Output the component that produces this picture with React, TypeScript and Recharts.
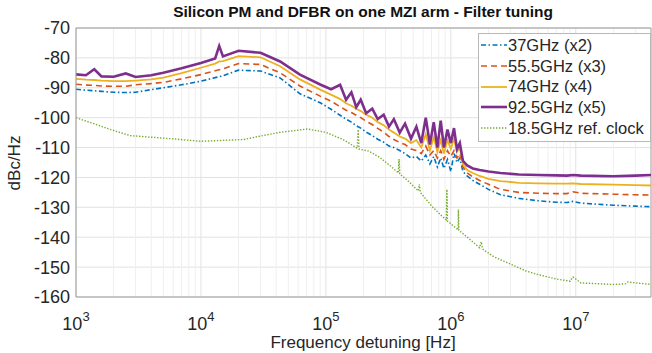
import React from "react";
import { LineChart, Line, XAxis, YAxis, CartesianGrid, ReferenceLine } from "recharts";

// shared frequency grid (Hz) for the four harmonic traces
const freqs = [
  1000, 1200, 1400, 1600, 2000, 2500, 3000, 4000, 5000, 7000,
  10000, 13000, 14000, 15000, 20000, 30000, 43000, 62000, 90000, 110000,
  130000, 145000, 160000, 175000, 190000, 210000, 235000, 260000, 290000, 320000,
  350000, 390000, 430000, 480000, 530000, 580000, 630000, 680000, 730000, 780000,
  830000, 880000, 940000, 1000000, 1060000, 1120000, 1180000, 1250000, 1350000, 1500000,
  1700000, 2000000, 2500000, 3500000, 5000000, 7000000, 8500000, 9500000, 11000000, 20000000,
  30000000, 40000000,
];

const pn37 = [
  -90.5, -90.8, -91.0, -91.2, -91.5, -91.6, -91.5, -90.6, -90.0, -89.0,
  -87.8, -86.6, -86.3, -86.0, -84.1, -84.4, -86.7, -92.0, -95.0, -97.2,
  -99.2, -100.5, -101.5, -102.7, -103.5, -104.8, -106.0, -107.2, -108.2, -109.5,
  -110.0, -111.0, -112.0, -113.5, -113.0, -114.5, -112.5, -115.5, -113.0, -116.5,
  -113.5, -117.0, -114.0, -118.0, -112.0, -115.0, -113.5, -118.0, -119.5, -121.0,
  -122.3, -124.0, -125.8, -127.0, -127.8, -128.3, -128.4, -128.0, -128.6, -129.3,
  -129.6, -129.8,
];

const pn55 = [
  -88.8, -89.1, -89.2, -89.4, -89.5, -89.5, -89.0, -88.6, -88.2, -87.0,
  -85.6, -84.3, -84.0, -83.7, -81.9, -82.2, -85.0, -89.4, -92.8, -94.5,
  -96.3, -97.5, -98.3, -99.2, -100.0, -101.2, -102.3, -103.6, -104.8, -106.3,
  -107.3, -108.3, -109.0, -110.5, -111.0, -112.0, -109.5, -112.5, -111.0, -113.5,
  -111.0, -114.0, -111.0, -113.0, -111.0, -113.5, -112.0, -116.5, -118.5, -119.8,
  -121.0, -122.3, -124.0, -125.0, -125.3, -125.4, -125.4, -124.8, -125.3, -125.6,
  -125.8, -125.9,
];

const pn74 = [
  -87.0, -87.3, -87.4, -87.6, -87.8, -87.8, -87.6, -87.2, -86.6, -85.1,
  -83.3, -81.9, -81.2, -81.1, -79.4, -79.8, -82.8, -87.2, -90.6, -92.3,
  -93.8, -95.2, -96.0, -97.0, -97.8, -99.0, -100.0, -101.5, -102.5, -104.0,
  -105.0, -106.3, -107.0, -108.5, -107.5, -110.0, -105.5, -111.0, -106.5, -111.5,
  -107.5, -112.0, -107.5, -110.5, -107.0, -111.5, -110.0, -115.5, -117.5, -118.5,
  -119.5, -120.5, -121.2, -121.8, -122.0, -122.1, -122.1, -122.0, -122.2, -122.4,
  -122.6, -122.7,
];

const pn92 = [
  -85.5, -85.8, -83.8, -86.2, -86.3, -85.2, -86.4, -85.8, -85.0, -83.5,
  -81.7, -80.2, -76.0, -79.5, -77.6, -78.3, -81.2, -85.6, -88.9, -90.5,
  -89.0, -94.0, -91.5, -96.5, -94.0, -98.5, -97.0, -100.5, -99.0, -103.0,
  -100.5, -105.0, -102.0, -107.0, -103.0, -108.5, -100.0, -109.0, -101.5, -110.0,
  -101.0, -110.0, -104.0, -108.5, -103.5, -110.5, -108.5, -114.5, -116.0, -117.0,
  -117.5, -118.0, -118.5, -119.0, -119.2, -119.3, -119.4, -119.2, -119.4, -119.6,
  -119.4, -119.2,
];

// reference clock trace has its own frequency points
const clockFreqs = [
  1000, 1500, 1900, 2700, 5600, 10000, 22000, 34000, 43000, 71000,
  100000, 137000, 175000, 178000, 181000, 184000, 220000, 270000, 330000, 380000,
  385000, 390000, 450000, 550000, 560000, 570000, 700000, 850000, 920000, 930000,
  940000, 1000000, 1140000, 1150000, 1160000, 1400000, 1700000, 1750000, 1800000, 2200000,
  3000000, 4000000, 5000000, 7000000, 9000000, 9500000, 11000000, 20000000, 25000000, 26000000,
  40000000,
];

const pnClock = [
  -100.0, -102.5, -104.0, -106.0, -107.0, -107.9, -107.3, -105.7, -104.9, -103.8,
  -104.9, -107.3, -110.0, -110.2, -104.0, -110.5, -111.2, -113.3, -116.2, -118.5,
  -113.8, -118.8, -121.0, -124.5, -122.3, -125.0, -129.5, -133.0, -134.2, -124.0,
  -134.6, -135.5, -137.5, -130.7, -137.7, -140.5, -143.5, -141.5, -144.0, -146.5,
  -149.0, -151.3, -152.5, -154.0, -154.7, -153.3, -155.3, -155.8, -155.6, -155.0,
  -155.8,
];

const xTicks = [1e3, 1e4, 1e5, 1e6, 1e7];
const yTicks = [-160, -150, -140, -130, -120, -110, -100, -90, -80, -70];

const rows = freqs.map((f, i) => ({ f, b: pn37[i], o: pn55[i], y: pn74[i], p: pn92[i] }));
const clockRows = clockFreqs.map((f, i) => ({ f, v: pnClock[i] }));

// minor grid lines 2..9 x 10^k
const minorLines: number[] = [];
for (let k = 3; k <= 7; k++) {
  for (let m = 2; m <= 9; m++) {
    const v = m * Math.pow(10, k);
    if (v < 4e7) minorLines.push(v);
  }
}

const series = [
  { key: "b", name: "37GHz (x2)", color: "#0072BD", width: 1.6, dash: "5 2.5 1.5 2.5" },
  { key: "o", name: "55.5GHz (x3)", color: "#D95319", width: 1.6, dash: "6 4" },
  { key: "y", name: "74GHz (x4)", color: "#EDB120", width: 1.8, dash: undefined },
  { key: "p", name: "92.5GHz (x5)", color: "#7E2F8E", width: 2.6, dash: undefined },
  { key: "v", name: "18.5GHz ref. clock", color: "#77AC30", width: 1.4, dash: "1.4 1.6" },
];

const font = "'Liberation Sans', Arial, Helvetica, sans-serif";
const textColor = "#262626";

const PowTick = (props: any) => {
  const { x, y, payload } = props;
  const e = Math.round(Math.log10(payload.value));
  return (
    <text x={x} y={y + 31} textAnchor="middle" fill={textColor} fontSize={18} fontFamily={font}>
      <tspan>10</tspan>
      <tspan dy={-9} fontSize={13}>{e}</tspan>
    </text>
  );
};

const LegendBox = () => (
  <div
    style={{
      position: "absolute",
      left: 478,
      top: 33,
      border: "1px solid #b8b8b8",
      background: "#fff",
      padding: "1px 6px 2px 2px",
      fontFamily: font,
      fontSize: 16.5,
      color: textColor,
      lineHeight: "20.7px",
    }}
  >
    {series.map((s) => (
      <div key={s.key} style={{ display: "flex", alignItems: "center", whiteSpace: "nowrap" }}>
        <svg width={26} height={10} style={{ marginRight: 1 }}>
          <line x1={0} y1={5} x2={26} y2={5} stroke={s.color} strokeWidth={s.width} strokeDasharray={s.dash} />
        </svg>
        <span>{s.name}</span>
      </div>
    ))}
  </div>
);

export default function App() {
  return (
    <div style={{ position: "absolute", left: 0, top: 0, width: 652, height: 353, background: "#fff", fontFamily: font, overflow: "hidden" }}>
      <div
        style={{
          position: "absolute",
          left: 0,
          width: 726,
          top: 3,
          textAlign: "center",
          fontWeight: "bold",
          fontSize: 15.5,
          color: "#111",
        }}
      >
        Silicon PM and DFBR on one MZI arm - Filter tuning
      </div>
      <LineChart width={652} height={353} data={rows} margin={{ top: 28, right: 1, left: 16, bottom: 26 }}>
        <CartesianGrid stroke="#e2e2e2" horizontalValues={yTicks} verticalValues={xTicks} />
        {minorLines.map((v) => (
          <ReferenceLine key={v} x={v} stroke="#efefef" strokeWidth={1} />
        ))}
        <XAxis
          dataKey="f"
          type="number"
          scale="log"
          domain={[1e3, 4e7]}
          ticks={xTicks}
          interval={0}
          allowDataOverflow
          tick={<PowTick />}
          tickLine={false}
          tickSize={0}
          height={30}
          stroke="#9a9a9a"
        />
        <YAxis
          type="number"
          domain={[-160, -70]}
          ticks={yTicks}
          interval={0}
          allowDataOverflow
          width={60}
          tickLine={false}
          tickSize={0}
          tickMargin={6}
          stroke="#9a9a9a"
          tick={{ fill: textColor, fontSize: 18, fontFamily: font }}
        />
        <ReferenceLine y={-70} stroke="#9a9a9a" />
        <ReferenceLine x={4e7} stroke="#9a9a9a" />
        <Line dataKey="b" stroke="#0072BD" strokeWidth={1.6} strokeDasharray="5 2.5 1.5 2.5" dot={false} isAnimationActive={false} />
        <Line dataKey="o" stroke="#D95319" strokeWidth={1.6} strokeDasharray="6 4" dot={false} isAnimationActive={false} />
        <Line dataKey="y" stroke="#EDB120" strokeWidth={1.8} dot={false} isAnimationActive={false} />
        <Line dataKey="p" stroke="#7E2F8E" strokeWidth={2.6} dot={false} isAnimationActive={false} />
        <Line data={clockRows} dataKey="v" stroke="#77AC30" strokeWidth={1.4} strokeDasharray="1.4 1.6" dot={false} isAnimationActive={false} />
      </LineChart>
      <LegendBox />
      <div
        style={{
          position: "absolute",
          left: 15,
          top: 163,
          transform: "translate(-50%, -50%) rotate(-90deg)",
          fontSize: 17,
          color: textColor,
          whiteSpace: "nowrap",
        }}
      >
        dBc/Hz
      </div>
      <div
        style={{
          position: "absolute",
          left: 0,
          width: 726,
          top: 334,
          height: 18,
          lineHeight: "18px",
          textAlign: "center",
          fontSize: 17,
          color: textColor,
        }}
      >
        Frequency detuning [Hz]
      </div>
    </div>
  );
}
